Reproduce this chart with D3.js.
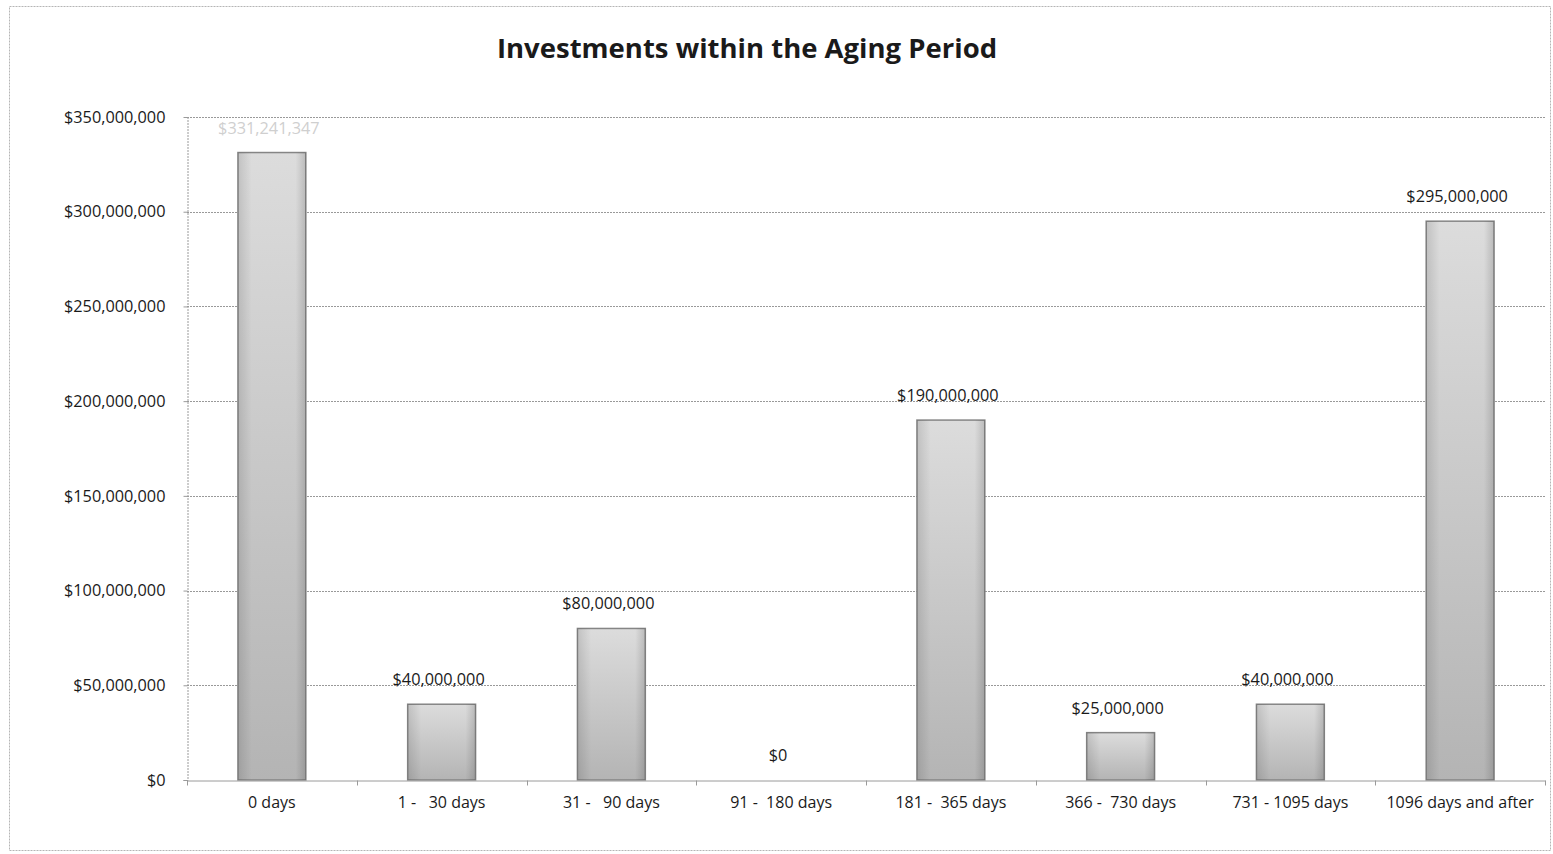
<!DOCTYPE html>
<html>
<head>
<meta charset="utf-8">
<script src="https://cdn.jsdelivr.net/npm/d3@7"></script>
<style>
  html, body { margin: 0; padding: 0; background: #ffffff; }
  svg { display: block; }
  text { font-family: "Open Sans", "Noto Sans", sans-serif; }
</style>
</head>
<body>
<svg id="chart" width="1553" height="854"></svg>
<script>
const categories = ["0 days", "1 -   30 days", "31 -   90 days", "91 -  180 days", "181 -  365 days", "366 -  730 days", "731 - 1095 days", "1096 days and after"];
const values = [331241347, 40000000, 80000000, 0, 190000000, 25000000, 40000000, 295000000];
const labels = ["$331,241,347", "$40,000,000", "$80,000,000", "$0", "$190,000,000", "$25,000,000", "$40,000,000", "$295,000,000"];
const labelFaded = [true, false, false, false, false, false, false, false];
const yTicks = [0, 50000000, 100000000, 150000000, 200000000, 250000000, 300000000, 350000000];
const titleText = "Investments within the Aging Period";

const W = 1553, H = 854;
const plot = { left: 187, right: 1545, top: 117, bottom: 780 };

const svg = d3.select("#chart");

// outer chart border
svg.append("rect")
  .attr("x", 9.5).attr("y", 6.5)
  .attr("width", 1541).attr("height", 844)
  .attr("fill", "none")
  .attr("stroke", "#b5b5b5")
  .attr("stroke-width", 1)
  .attr("stroke-dasharray", "2,1");

const defs = svg.append("defs");
const grad = defs.append("linearGradient")
  .attr("id", "barGrad").attr("x1", 0).attr("y1", 0).attr("x2", 0).attr("y2", 1);
grad.append("stop").attr("offset", "0%").attr("stop-color", "#dcdcdc");
grad.append("stop").attr("offset", "100%").attr("stop-color", "#b4b4b4");
const gradH = defs.append("linearGradient")
  .attr("id", "barGradH").attr("x1", 0).attr("y1", 0).attr("x2", 1).attr("y2", 0);
gradH.append("stop").attr("offset", "0%").attr("stop-color", "#000").attr("stop-opacity", 0.12);
gradH.append("stop").attr("offset", "20%").attr("stop-color", "#000").attr("stop-opacity", 0);
gradH.append("stop").attr("offset", "85%").attr("stop-color", "#000").attr("stop-opacity", 0);
gradH.append("stop").attr("offset", "100%").attr("stop-color", "#000").attr("stop-opacity", 0.15);

const x = d3.scaleBand()
  .domain(categories)
  .range([plot.left, plot.right])
  .paddingInner(0.6)
  .paddingOuter(0.3);

const y = d3.scaleLinear()
  .domain([0, 350000000])
  .range([plot.bottom, plot.top]);

const fmt = v => "$" + d3.format(",")(v);

// gridlines
svg.append("g")
  .selectAll("line")
  .data(yTicks.filter(t => t > 0))
  .join("line")
  .attr("x1", plot.left).attr("x2", plot.right)
  .attr("y1", d => Math.round(y(d)) + 0.5).attr("y2", d => Math.round(y(d)) + 0.5)
  .attr("stroke", "#999999")
  .attr("stroke-width", 1)
  .attr("stroke-dasharray", "2,1");

// y axis
const yAxis = d3.axisLeft(y).tickValues(yTicks).tickFormat(fmt).tickSize(4).tickPadding(18);
const gy = svg.append("g")
  .attr("transform", `translate(${plot.left + 0.5},0)`)
  .call(yAxis);
gy.select(".domain").attr("stroke", "#9a9a9a").attr("stroke-dasharray", "2,1");
gy.selectAll(".tick line").attr("stroke", "#9a9a9a");
gy.selectAll(".tick text")
  .attr("font-family", "'Open Sans', sans-serif")
  .attr("font-size", "16.3px")
  .attr("fill", "#1a1a1a");

// bars
const bars = svg.append("g");
bars.selectAll("rect.bar")
  .data(values)
  .join("rect")
  .attr("class", "bar")
  .attr("x", (d, i) => x(categories[i]))
  .attr("y", d => y(d))
  .attr("width", x.bandwidth())
  .attr("height", d => y(0) - y(d))
  .attr("fill", "url(#barGrad)")
  .attr("stroke", "#858585")
  .attr("stroke-width", 1.5);
bars.selectAll("rect.shade")
  .data(values)
  .join("rect")
  .attr("class", "shade")
  .attr("x", (d, i) => x(categories[i]))
  .attr("y", d => y(d))
  .attr("width", x.bandwidth())
  .attr("height", d => y(0) - y(d))
  .attr("fill", "url(#barGradH)");

// x axis
const xAxis = d3.axisBottom(x).tickSize(0).tickPadding(16);
const gx = svg.append("g")
  .attr("transform", `translate(0,${plot.bottom + 0.5})`)
  .call(xAxis);
gx.select(".domain").attr("stroke", "#9a9a9a");
gx.selectAll(".tick text")
  .attr("font-family", "'Open Sans', sans-serif")
  .attr("font-size", "16px")
  .attr("fill", "#1a1a1a")
  .style("white-space", "pre")
  .attr("xml:space", "preserve");
// category boundary tick marks
const step = x.step();
const bounds = categories.map((c, i) => x(c) + x.bandwidth() / 2 - step / 2).concat([plot.right]);
gx.append("g").selectAll("line")
  .data(bounds)
  .join("line")
  .attr("x1", d => Math.round(d) + 0.5).attr("x2", d => Math.round(d) + 0.5)
  .attr("y1", 0).attr("y2", 5)
  .attr("stroke", "#9a9a9a");

// value labels
svg.append("g")
  .selectAll("text")
  .data(values)
  .join("text")
  .attr("x", (d, i) => x(categories[i]) + x.bandwidth() / 2 - 3)
  .attr("y", d => y(d) - 19)
  .attr("text-anchor", "middle")
  .attr("font-size", "16.3px")
  .attr("fill", (d, i) => labelFaded[i] ? "#cfcfcf" : "#1a1a1a")
  .text((d, i) => labels[i]);

// title
svg.append("text")
  .attr("x", 747)
  .attr("y", 58)
  .attr("text-anchor", "middle")
  .attr("font-size", "27.5px")
  .attr("font-weight", "bold")
  .attr("fill", "#1a1a1a")
  .text(titleText);
</script>
</body>
</html>
